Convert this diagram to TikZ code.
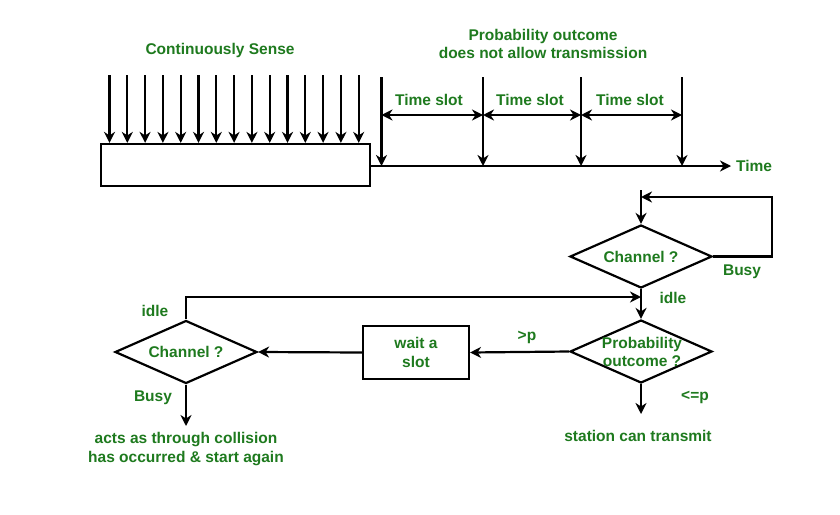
\documentclass[tikz,border=0pt]{standalone}
\usepackage{fontspec}
\setmainfont{Liberation Sans}
\usetikzlibrary{shapes.geometric,arrows.meta}
\definecolor{tgreen}{RGB}{30,122,30}
\begin{document}
\begin{tikzpicture}[x=1pt,y=-1pt,
  line width=2.2pt,
  tip/.tip={Stealth[length=11pt,width=11pt,inset=3.5pt]},
  arr/.style={-tip},
  dbl/.style={tip-tip},
  txt/.style={text=tgreen,font=\fontsize{15.5}{18.5}\selectfont\bfseries,align=center,inner sep=0pt},
  dia/.style={draw,diamond,aspect=2.25,minimum width=142pt,minimum height=63pt,inner sep=0pt},
  boxs/.style={draw,rectangle,inner sep=0pt}
  ]
\useasboundingbox (0,0) rectangle (840,514);
\fill[white] (0,0) rectangle (840,514);

% top timeline
\node[boxs,minimum width=269pt,minimum height=42pt] (box) at (235.5,165) {};
\node[txt] (sense) at (220,50) {Continuously Sense};
\foreach \i in {0,...,14}{
  \pgfmathsetmacro{\xx}{109.5+\i*17.8}
  \draw[arr] (\xx,75) -- (\xx,75 |- box.north);
}
\coordinate (tend) at (731,166);
\draw[arr] (box.east |- 0,166) -- (tend);
\node[txt,anchor=west] (time) at (735,166) {Time};
\foreach \x/\n in {381.5/a,483/b,581/c,682/d}{
  \coordinate (t\n) at (\x,77);
  \coordinate (b\n) at (\x,166);
  \draw[arr] (t\n) -- (b\n);
  \coordinate (m\n) at (\x,115);
}
\draw[dbl] (ma) -- (mb);
\draw[dbl] (mb) -- (mc);
\draw[dbl] (mc) -- (md);
\node[txt] (ts1) at (429,100) {Time slot};
\node[txt] (ts2) at (530,100) {Time slot};
\node[txt] (ts3) at (630,100) {Time slot};
\node[txt] (prob) at (543,44) {Probability outcome\\does not allow transmission};

% right flowchart
\node[dia] (ch1) at (641,256.5) {};
\node[txt] at (ch1.center) {Channel ?};
\coordinate (ch1in) at (641,190);
\draw[arr] (ch1in) -- (ch1.north);
\coordinate (loopr) at (772,197);
\draw[arr] (ch1.east) -- (ch1.east -| loopr) -- (loopr) -- (641,197);
\node[txt] (busy1) at (742,272) {Busy};

\node[dia] (ch2) at (641,351.5) {};
\node[txt] (probq) at (642,352) {Probability\\outcome ?};
\draw[arr] (ch1.south) -- (ch2.north);
\node[txt] (idle1) at (673,298) {idle};

\coordinate (st) at (641,414);
\draw[arr] (ch2.south) -- (st);
\node[txt] (le) at (695,397) {<=p};
\node[txt] (stat) at (638,436) {station can transmit};

\node[boxs,minimum width=106pt,minimum height=53pt] (wait) at (416,352.5) {};
\node[txt] at (wait.center) {wait a\\slot};
\draw[arr] (ch2.west) -- (wait.east);
\node[txt] (gt) at (527,337) {>p};

\node[dia] (ch3) at (186,352) {};
\node[txt] at (ch3.center) {Channel ?};
\draw[arr] (wait.west) -- (ch3.east);
\draw[arr] (ch3.north) -- (186,297) -- (641,297);
\node[txt] (idle2) at (155,311) {idle};
\node[txt] (busy2) at (153,398) {Busy};
\coordinate (coll) at (186,426);
\draw[arr] (ch3.south) -- (coll);
\node[txt] (colltxt) at (186,449) {acts as through collision\\has occurred \& start again};
\end{tikzpicture}
\end{document}
